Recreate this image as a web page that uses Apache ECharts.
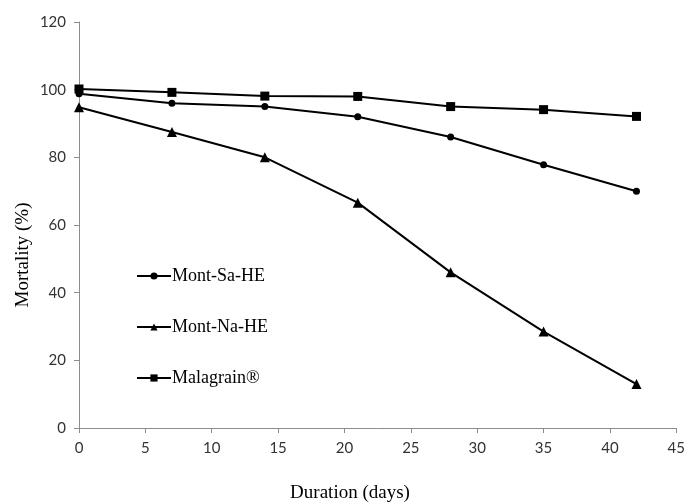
<!DOCTYPE html>
<html>
<head>
<meta charset="utf-8">
<script src="https://cdn.jsdelivr.net/npm/echarts@6/dist/echarts.min.js"></script>
<style>html,body{margin:0;padding:0;background:#fff;}#c{width:688px;height:504px;}</style>
</head>
<body>
<div id="c"></div>
<script>
var days = [0, 7, 14, 21, 28, 35, 42];
var montSa = [98.8, 96, 95, 92, 86, 77.8, 70];
var montNa = [94.8, 87.5, 80, 66.6, 46, 28.5, 13];
var malagrain = [100.2, 99.2, 98.1, 98, 95, 94.1, 92.1];
var seriesNames = ['Mont-Sa-HE', 'Mont-Na-HE', 'Malagrain®'];
var xTitle = 'Duration (days)';
var yTitle = 'Mortality (%)';

function pairs(v) { return days.map(function (d, i) { return [d, v[i]]; }); }

var chart = echarts.init(document.getElementById('c'), null, {renderer: 'canvas'});
var lineStyle = {color: '#000', width: 2};
var titleFont = '19px "Liberation Serif"';
chart.setOption({
  animation: false,
  grid: {left: 79, right: 9, top: 22, bottom: 76},
  graphic: [
    {type: 'text', x: 350, y: 493,
     style: {text: xTitle, font: titleFont, fill: '#000', align: 'center', verticalAlign: 'middle'}},
    {type: 'text', x: 23, y: 255, rotation: Math.PI / 2,
     style: {text: yTitle, font: titleFont, fill: '#000', align: 'center', verticalAlign: 'middle'}}
  ],
  legend: {
    orient: 'vertical',
    left: 136,
    top: 266,
    padding: 0,
    itemWidth: 34,
    itemHeight: 9,
    itemGap: 31,
    textStyle: {fontFamily: 'Liberation Serif', fontSize: 18, lineHeight: 20, color: '#000', padding: [0, 0, 0, -4]},
    data: seriesNames
  },
  xAxis: {
    type: 'value', min: 0, max: 45, interval: 5,
    axisLine: {lineStyle: {color: '#8c8c8c', width: 1}},
    axisTick: {show: true, inside: false, length: 5, lineStyle: {color: '#8c8c8c'}},
    axisLabel: {fontFamily: 'Lato', fontSize: 15, color: '#333', margin: 13},
    splitLine: {show: false}
  },
  yAxis: {
    type: 'value', min: 0, max: 120, interval: 20,
    axisLine: {show: true, lineStyle: {color: '#8c8c8c', width: 1}},
    axisTick: {show: true, inside: false, length: 5, lineStyle: {color: '#8c8c8c'}},
    axisLabel: {fontFamily: 'Lato', fontSize: 15, color: '#333', margin: 13},
    splitLine: {show: false}
  },
  series: [
    {name: seriesNames[0], type: 'line', data: pairs(montSa), symbol: 'circle', symbolSize: 7,
     lineStyle: lineStyle, itemStyle: {color: '#000'}},
    {name: seriesNames[1], type: 'line', data: pairs(montNa), symbol: 'triangle', symbolSize: 10,
     lineStyle: lineStyle, itemStyle: {color: '#000'}},
    {name: seriesNames[2], type: 'line', data: pairs(malagrain), symbol: 'rect', symbolSize: 9,
     lineStyle: lineStyle, itemStyle: {color: '#000'}}
  ]
});
</script>
</body>
</html>
